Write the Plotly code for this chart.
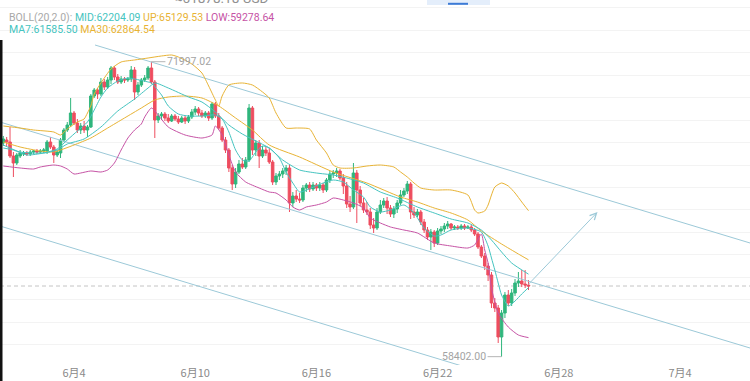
import plotly.graph_objects as go
import pandas as pd

# ---------------- data (4h candles, local time) ----------------
start = pd.Timestamp("2024-05-31 12:00")
step = pd.Timedelta(hours=4)

opens = [68250, 68388, 68296, 67651, 67328, 67651, 67743, 67789, 67743, 67835,
         67881, 67835, 67881, 67881, 68296, 68066, 67697, 67789, 68388, 68849,
         69079, 69633, 69172, 68849, 69033, 68849, 68987, 70416, 70693, 70508,
         71062, 70831, 71154, 71707, 71292, 71062, 71200, 71154, 71200, 71615,
         70601, 70923, 71154, 71246, 71707, 71062, 69310, 69494, 69586, 69402,
         69264, 69494, 69356, 69218, 69402, 69264, 69448, 69679, 69817, 69633,
         69494, 69633, 69402, 70047, 69494, 68941, 68388, 67927, 67098, 66360,
         66913, 67282, 67144, 67467, 69863, 67927, 68250, 67651, 67927, 67789,
         67374, 66452, 66729, 66821, 66960, 67098, 65485, 65807, 65669, 65623,
         66176, 66314, 66130, 66314, 66176, 66314, 66084, 66545, 66821, 66867,
         66960, 66637, 66268, 65438, 65300, 66867, 66084, 65485, 65162, 65070,
         64470, 64332, 65070, 65392, 65577, 65254, 64977, 65208, 65485, 65853,
         66038, 66360, 65070, 64931, 65070, 64609, 64240, 63917, 64148, 63641,
         64194, 64286, 64424, 64516, 64332, 64378, 64332, 64424, 64332, 64378,
         64240, 64056, 63456, 63042, 62581, 62166, 60875, 60645, 59308, 60414,
         61244, 60875, 61336, 61797, 61889, 61751, 61705]
highs = [68573, 68527, 68987, 67835, 67789, 67927, 67881, 67881, 67927, 67927,
         67974, 67974, 68020, 68388, 68527, 68158, 67927, 68480, 68941, 69218,
         70324, 69725, 69356, 69172, 69264, 69079, 70508, 70785, 70785, 71246,
         71200, 71292, 71799, 71799, 71430, 71338, 71292, 71292, 71799, 71753,
         71062, 71246, 71384, 71799, 71997.02, 71154, 69633, 69679, 69679, 69586,
         69586, 69586, 69494, 69494, 69494, 69540, 69817, 69955, 69909, 69771,
         69725, 69725, 70140, 70140, 69633, 69033, 68527, 68020, 67236, 67098,
         67467, 67559, 67605, 70047, 69955, 68388, 68388, 68112, 68112, 68020,
         67467, 66867, 66960, 67098, 67236, 67236, 65991, 66084, 65945, 66314,
         66406, 66452, 66452, 66406, 66452, 66406, 66637, 66960, 67006, 67098,
         67052, 66821, 66452, 65807, 67328, 67006, 66268, 65715, 65531, 65254,
         64793, 65254, 65623, 65715, 65761, 65392, 65346, 65623, 66084, 66176,
         66499, 66452, 65300, 65208, 65162, 64747, 64378, 64286, 64240, 64332,
         64424, 64563, 64655, 64563, 64470, 64470, 64516, 64516, 64470, 64470,
         64332, 64148, 63549, 63180, 62719, 62304, 61106, 60783, 60552, 61382,
         61474, 61521, 61982, 62304, 62396, 62396, 61935]
lows = [68112, 68112, 67559, 66683, 67236, 67559, 67651, 67651, 67651, 67743,
        67743, 67743, 67789, 67743, 67974, 67328, 67605, 67559, 68296, 68757,
        68987, 69079, 68711, 68665, 68711, 68527, 68941, 70324, 70278, 70416,
        70693, 70739, 70969, 71154, 70969, 70969, 71016, 71062, 71062, 70232,
        70462, 70831, 71062, 71154, 70969, 68480, 69172, 69310, 69264, 69172,
        69218, 69264, 69125, 69172, 69125, 69172, 69356, 69540, 69494, 69402,
        69402, 69264, 69310, 69402, 68849, 68296, 67789, 66913, 66084, 66176,
        66821, 67052, 67052, 67374, 67697, 67651, 67098, 67559, 67651, 67282,
        66314, 66314, 66545, 66637, 66775, 65070, 65300, 65531, 65485, 65531,
        65991, 65991, 66038, 66038, 66038, 65945, 65991, 66406, 66637, 66683,
        66545, 65899, 65254, 65070, 65208, 64563, 65346, 65024, 64931, 64286,
        64102, 64240, 64977, 65254, 64977, 64839, 64793, 65024, 65392, 65761,
        65899, 64747, 64793, 64839, 64470, 64102, 63779, 63318, 63456, 63549,
        64056, 64148, 64286, 64240, 64240, 64240, 64240, 64240, 64286, 64148,
        63963, 63364, 62949, 62396, 61889, 60645, 60460, 59032, 58402.00, 60184,
        60737, 60737, 61198, 61613, 61613, 61567, 61474]
closes = [68434, 68296, 67651, 67328, 67697, 67789, 67789, 67743, 67835, 67881,
          67835, 67881, 67927, 68296, 68066, 67697, 67835, 68388, 68849, 69079,
          69633, 69172, 68849, 69033, 68849, 68987, 70416, 70693, 70508, 71062,
          70831, 71154, 71707, 71292, 71062, 71200, 71154, 71200, 71615, 70601,
          70923, 71154, 71246, 71707, 71062, 69310, 69494, 69586, 69402, 69264,
          69494, 69356, 69218, 69402, 69264, 69448, 69679, 69817, 69633, 69494,
          69633, 69402, 70047, 69494, 68941, 68388, 67927, 67098, 66360, 66913,
          67282, 67144, 67467, 69863, 67927, 68250, 67651, 67927, 67789, 67374,
          66452, 66729, 66821, 66960, 67098, 65485, 65807, 65669, 65623, 66176,
          66314, 66130, 66314, 66176, 66314, 66084, 66545, 66821, 66867, 66960,
          66637, 66268, 65438, 65300, 66867, 66084, 65485, 65162, 65070, 64470,
          64332, 65070, 65392, 65577, 65254, 64977, 65208, 65485, 65853, 66038,
          66360, 65070, 64931, 65070, 64609, 64240, 63917, 64148, 63641, 64194,
          64286, 64424, 64516, 64332, 64378, 64332, 64424, 64332, 64378, 64240,
          64056, 63456, 63042, 62581, 62166, 60875, 60645, 59308, 60414, 61244,
          60875, 61336, 61797, 61889, 61751, 61705, 61659]

# indicator lines (candle index -> price)
up_idx = [0, 5, 9, 15, 17, 19, 22, 24, 25, 26, 27, 29, 32, 35, 39, 43, 47, 50, 52, 56,
          59, 61, 63, 64, 65, 67, 71, 74, 77, 79, 81, 84, 87, 91, 93, 96, 98, 100, 104, 108,
          112, 116, 118, 120, 122, 124, 128, 133, 138, 140, 141, 143, 144, 145, 146, 148,
          150, 152, 154, 156]
up_val = [69034, 68941, 68849, 68757, 68619, 68895, 69218, 69356, 69633, 69955,
          70508, 71016, 71661, 71984, 72076, 72168, 72261, 72306, 72214, 71891,
          71476, 70877, 70232, 69955, 70416, 70923, 71016, 70923, 70601, 70324,
          69633, 68941, 68941, 68895, 68388, 67789, 67236, 67098, 67098, 67190,
          67236, 67144, 66913, 66683, 66406, 66176, 66084, 66084, 65853, 65162,
          65024, 65116, 65392, 65853, 66222, 66406, 66268, 65945, 65531, 65130]
mid_idx = [0, 5, 12, 16, 19, 24, 29, 34, 39, 43, 45, 49, 55, 59, 63, 67, 71, 75, 79, 83,
           88, 93, 98, 102, 107, 112, 117, 123, 128, 133, 138, 142, 145, 148, 151, 156]
mid_val = [68158, 67835, 67789, 67927, 68204, 68435, 68987, 69725, 70278, 70785,
           71016, 70785, 70370, 70140, 69679, 69080, 68665, 68342, 68020, 67467,
           67006, 66867, 66775, 66637, 66406, 65991, 65715, 65301, 65024, 64747,
           64563, 64240, 63779, 63226, 62719, 62204]
low_idx = [0, 5, 9, 11, 15, 17, 19, 21, 23, 26, 29, 31, 33, 35, 37, 39, 41, 42, 44, 46,
           49, 54, 59, 62, 63, 65, 67, 69, 72, 76, 79, 81, 84, 86, 88, 90, 93, 96, 98, 101,
           104, 107, 109, 112, 115, 119, 123, 128, 133, 138, 140, 142, 143, 144, 145, 147,
           150, 153, 156]
low_val = [67190, 67098, 67052, 67144, 67236, 67190, 67052, 66821, 66867, 66960,
           66913, 67006, 67328, 67927, 68480, 68849, 69125, 69448, 69863, 69540,
           68987, 68619, 68480, 68619, 69034, 68619, 67697, 66913, 66452, 66176,
           65991, 65945, 65623, 65301, 65162, 65301, 65392, 65531, 65715, 65623,
           65485, 65254, 64793, 64563, 64379, 64240, 64102, 63641, 63502, 63410,
           63549, 64056, 63318, 62719, 61567, 60414, 59768, 59400, 59279]
ma7_idx = [0, 3, 7, 12, 16, 19, 22, 25, 27, 29, 31, 34, 37, 39, 43, 44, 47, 49, 52, 55,
           59, 63, 65, 67, 69, 71, 73, 75, 77, 79, 82, 84, 86, 88, 90, 95, 98, 101, 104, 107,
           109, 112, 115, 119, 122, 125, 128, 130, 133, 138, 142, 144, 145, 146, 147, 148,
           150, 152, 154, 156]
ma7_val = [68020, 67927, 67697, 67789, 67974, 68388, 68803, 69218, 69771, 70370,
           70785, 71108, 71246, 71200, 71062, 71016, 70462, 69955, 69586, 69494,
           69494, 69540, 69356, 68757, 67927, 67467, 67420, 67835, 68112, 68020,
           67559, 66913, 66406, 65991, 66084, 66406, 66545, 66452, 66084, 65761,
           65301, 65070, 65162, 65392, 65024, 64332, 63963, 64010, 64240, 64332,
           64148, 63502, 62949, 62396, 61797, 61244, 60737, 60967, 61290, 61585]
ma30_idx = [0, 5, 11, 15, 17, 21, 26, 31, 36, 41, 45, 49, 54, 59, 64, 69, 74, 79, 88, 98,
            108, 118, 123, 128, 133, 138, 142, 148, 153, 156]
ma30_val = [68296, 68066, 67881, 67835, 67927, 68158, 68480, 68941, 69402, 69863,
            70232, 70370, 70416, 70324, 69955, 69402, 68849, 68158, 67605, 66913,
            66406, 65761, 65531, 65254, 65024, 64701, 64194, 63595, 63134, 62865]

# hand-drawn channel lines and arrow (time, price)
chan_t0 = ["2024-06-05 01:00", "2024-05-31 08:00", "2024-05-31 08:00"]
chan_p0 = [72767, 69218, 64425]
chan_t1 = ["2024-07-07 12:00", "2024-07-07 12:00", "2024-06-23 12:00"]
chan_p1 = [63632, 58792, 57889]
arrow_tail = ("2024-06-26 10:00", 61659)
arrow_head = ("2024-06-29 22:00", 65070)

tick_dates = ["2024-06-04", "2024-06-10", "2024-06-16", "2024-06-22", "2024-06-28", "2024-07-04"]
tick_text = ["6月4", "6月10", "6月16", "6月22", "6月28", "7月4"]

legend_boll = ("BOLL(20,2.0): ", "MID:62204.09", "UP:65129.53", "LOW:59278.64")
legend_ma = ("MA7:61585.50", "MA30:62864.54")
ticker_text = "≈61878.18 USD"

# ---------------- style ----------------
GREEN = "#2fb67c"
RED = "#ee4d5f"
TEAL = "#45c4c0"
GOLD = "#e8b334"
MAGENTA = "#c653a5"
CHAN = "#9cc9d8"
GREY = "#a3a3a3"

W, H = 750, 381
MT, MB = 0, 16
PH = H - MT - MB


def ts(i):
    return start + i * step


times = [ts(i) for i in range(len(opens))]

fig = go.Figure()

for t0, p0, t1, p1 in zip(chan_t0, chan_p0, chan_t1, chan_p1):
    fig.add_trace(go.Scatter(x=[t0, t1], y=[p0, p1], mode="lines",
                             line=dict(color=CHAN, width=1), hoverinfo="skip"))

for idx, vals, col in [(up_idx, up_val, GOLD), (ma30_idx, ma30_val, GOLD),
                       (low_idx, low_val, MAGENTA), (mid_idx, mid_val, TEAL),
                       (ma7_idx, ma7_val, TEAL)]:
    fig.add_trace(go.Scatter(x=[ts(i) for i in idx], y=vals, mode="lines",
                             line=dict(color=col, width=1, shape="spline", smoothing=0.6),
                             hoverinfo="skip"))

fig.add_trace(go.Candlestick(
    x=times, open=opens, high=highs, low=lows, close=closes,
    increasing=dict(line=dict(color=GREEN, width=1), fillcolor=GREEN),
    decreasing=dict(line=dict(color=RED, width=1), fillcolor=RED),
    whiskerwidth=0, hoverinfo="skip"))

x_left = pd.Timestamp("2024-06-04") - pd.Timedelta(days=74 / 20.2)
x_right = pd.Timestamp("2024-06-04") + pd.Timedelta(days=676 / 20.2)
y_top = 74841
y_bot = 74841 - 46.09 * PH

fig.update_layout(
    width=W, height=H, margin=dict(l=0, r=0, t=MT, b=MB, autoexpand=False),
    paper_bgcolor="white", plot_bgcolor="white", showlegend=False,
    boxgap=0.25, boxgroupgap=0,
    font=dict(family="Roboto, Noto Sans CJK SC, sans-serif", color=GREY),
    xaxis=dict(type="date", range=[x_left, x_right], rangeslider=dict(visible=False),
               showgrid=False, zeroline=False, showline=False, ticks="", automargin=False,
               tickvals=tick_dates, ticktext=tick_text,
               tickfont=dict(size=11, color="#8a8a8a",
                             family="Noto Sans CJK SC, sans-serif")),
    yaxis=dict(range=[y_bot, y_top], showticklabels=False, zeroline=False, automargin=False,
               showgrid=True, gridcolor="#f3f3f3", gridwidth=1,
               tick0=67236, dtick=1034, ticks=""),
)


def py(ypix):
    return (H - MB - ypix) / PH


# current price dashed line
fig.add_shape(type="line", xref="paper", x0=0, x1=1, yref="y", y0=closes[-1], y1=closes[-1],
              line=dict(color="#c4c4c4", width=1, dash="4px,3px"), layer="below")

# black left strip (device edge)
fig.add_shape(type="rect", xref="paper", yref="paper", x0=0, x1=2.5 / W,
              y0=py(H), y1=py(40), fillcolor="#111", line=dict(width=0))
# top tab widget
fig.add_shape(type="rect", xref="paper", yref="paper", x0=427 / W, x1=490 / W,
              y0=py(5), y1=py(0), fillcolor="#e4eefb", line=dict(width=0))
fig.add_shape(type="rect", xref="paper", yref="paper", x0=448 / W, x1=468 / W,
              y0=py(4.8), y1=py(2.8), fillcolor="#3d7bd6", line=dict(width=0))

# arrow
fig.add_annotation(x=arrow_head[0], y=arrow_head[1], ax=arrow_tail[0], ay=arrow_tail[1],
                   xref="x", yref="y", axref="x", ayref="y", text="", showarrow=True,
                   arrowhead=5, arrowsize=1.3, arrowwidth=1, arrowcolor=CHAN)

# high / low labels
fig.add_annotation(x=ts(44), y=highs[44], text=f"{highs[44]:.2f}", showarrow=True,
                   arrowhead=0, arrowwidth=1, arrowcolor="#b5b5b5", ax=14, ay=0,
                   xanchor="left", font=dict(size=10.5, color=GREY))
fig.add_annotation(x=ts(148), y=lows[148], text=f"{lows[148]:.2f}", showarrow=True,
                   arrowhead=0, arrowwidth=1, arrowcolor="#b5b5b5", ax=-14, ay=0,
                   xanchor="right", font=dict(size=10.5, color=GREY))

# legend text
row1 = (f"<span style='color:#a8a8a8'>{legend_boll[0]}</span>"
        f"<span style='color:{TEAL}'>{legend_boll[1]}</span> "
        f"<span style='color:{GOLD}'>{legend_boll[2]}</span> "
        f"<span style='color:{MAGENTA}'>{legend_boll[3]}</span>")
row2 = (f"<span style='color:{TEAL}'>{legend_ma[0]}</span> "
        f"<span style='color:{GOLD}'>{legend_ma[1]}</span>")
fig.add_annotation(xref="paper", yref="paper", x=7 / W, y=py(17), text=row1, showarrow=False,
                   xanchor="left", yanchor="middle", font=dict(size=10.5))
fig.add_annotation(xref="paper", yref="paper", x=7 / W, y=py(29), text=row2, showarrow=False,
                   xanchor="left", yanchor="middle", font=dict(size=10.5))
fig.add_annotation(xref="paper", yref="paper", x=221 / W, y=py(-2), text=ticker_text,
                   showarrow=False, xanchor="center", yanchor="middle",
                   font=dict(size=13.5, color="#909090"))

fig.write_html("out.html", config={"displayModeBar": False},
               post_script="document.body.style.margin='0';")
